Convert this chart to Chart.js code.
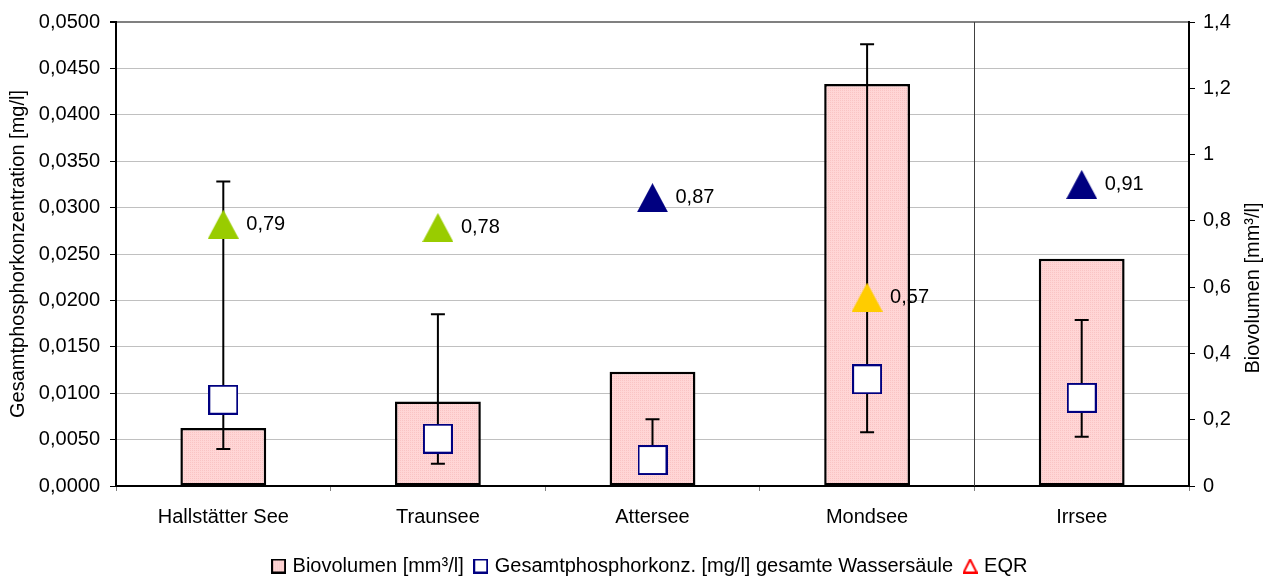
<!DOCTYPE html>
<html>
<head>
<meta charset="utf-8">
<script src="https://cdn.jsdelivr.net/npm/chart.js@4.4.1/dist/chart.umd.min.js"></script>
<style>
  html, body { margin: 0; padding: 0; background: #fff; }
  #wrap { width: 1280px; height: 579px; }
</style>
</head>
<body>
<div id="wrap"><canvas id="seenChart" width="1280" height="579"></canvas></div>
<script>
// Werte
const seen = ['Hallstätter See', 'Traunsee', 'Attersee', 'Mondsee', 'Irrsee'];
const biovolumen = [0.175, 0.255, 0.345, 1.213, 0.686];          // mm³/l, rechte Achse
const phosphor = [0.0093, 0.0051, 0.0028, 0.0115, 0.0095];       // mg/l, linke Achse
const phosphorMin = [0.0040, 0.0024, null, 0.0058, 0.0053];
const phosphorMax = [0.0328, 0.0185, 0.0072, 0.0476, 0.0179];
const eqr = [0.79, 0.78, 0.87, 0.57, 0.91];
const eqrFarben = ['#99cc00', '#99cc00', '#000080', '#ffcc00', '#000080'];
const eqrLabels = ['0,79', '0,78', '0,87', '0,57', '0,91'];

const FONT = '"Liberation Sans", Arial, sans-serif';
Chart.defaults.font.family = FONT;
Chart.defaults.font.size = 20;
Chart.defaults.color = '#000';

function makeCanvas(w, h, draw) {
    const c = document.createElement('canvas');
    c.width = w; c.height = h;
    draw(c.getContext('2d'));
    return c;
}

function dreieck(farbe, w, h, outline) {
    return makeCanvas(w, h, ctx => {
        ctx.beginPath();
        ctx.moveTo(w / 2, outline ? 1 : 0);
        ctx.lineTo(outline ? w - 1 : w, outline ? h - 1 : h);
        ctx.lineTo(outline ? 1 : 0, outline ? h - 1 : h);
        ctx.closePath();
        if (outline) {
            ctx.strokeStyle = farbe; ctx.lineWidth = 2; ctx.stroke();
        } else {
            ctx.fillStyle = farbe; ctx.fill();
        }
    });
}

function quadrat(size, fill, stroke, lw) {
    return makeCanvas(size, size, ctx => {
        ctx.fillStyle = fill;
        ctx.fillRect(0, 0, size, size);
        ctx.strokeStyle = stroke; ctx.lineWidth = lw;
        ctx.strokeRect(lw / 2, lw / 2, size - lw, size - lw);
    });
}

// rosa Punktmuster fuer die Balken
const musterCanvas = makeCanvas(2, 2, ctx => {
    ctx.fillStyle = '#ffd6d6'; ctx.fillRect(0, 0, 2, 2);
    ctx.fillStyle = '#f9c4c4'; ctx.fillRect(0, 0, 1, 1);
});
const muster = document.createElement('canvas').getContext('2d').createPattern(musterCanvas, 'repeat');

const quadratMarker = quadrat(30, '#fff', '#000080', 2);
const dreieckMarker = eqrFarben.map(f => dreieck(f, 31, 29, false));

const legendMarker = [
    makeCanvas(15, 15, ctx => {
        ctx.fillStyle = muster; ctx.fillRect(0, 0, 15, 15);
        ctx.strokeStyle = '#000'; ctx.lineWidth = 2; ctx.strokeRect(1, 1, 13, 13);
    }),
    quadrat(15, '#fff', '#000080', 2),
    dreieck('#ff0000', 15, 15, true)
];

const fehlerbalken = {
    id: 'fehlerbalken',
    beforeDatasetDraw(chart, args) {
        if (args.index !== 1) return;
        const ctx = chart.ctx, x = chart.scales.x, y = chart.scales.y;
        ctx.save();
        ctx.strokeStyle = '#000';
        ctx.lineWidth = 2;
        seen.forEach((s, i) => {
            const px = x.getPixelForValue(i);
            const yMid = y.getPixelForValue(phosphor[i]);
            const yTop = y.getPixelForValue(phosphorMax[i]);
            ctx.beginPath();
            ctx.moveTo(px, yMid); ctx.lineTo(px, yTop);
            ctx.moveTo(px - 7, yTop); ctx.lineTo(px + 7, yTop);
            if (phosphorMin[i] !== null) {
                const yBot = y.getPixelForValue(phosphorMin[i]);
                ctx.moveTo(px, yMid); ctx.lineTo(px, yBot);
                ctx.moveTo(px - 7, yBot); ctx.lineTo(px + 7, yBot);
            }
            ctx.stroke();
        });
        ctx.restore();
    }
};

const extras = {
    id: 'extras',
    afterLayout(chart) {
        // Legende wie im Original etwas nach rechts
        chart.legend.left += 11;
        chart.legend.right += 11;
    },
    beforeDatasetsDraw(chart) {
        const ctx = chart.ctx, x = chart.scales.x, area = chart.chartArea;
        const px = Math.round((x.getPixelForValue(3) + x.getPixelForValue(4)) / 2) + 0.5;
        ctx.save();
        ctx.strokeStyle = '#404040';
        ctx.lineWidth = 1;
        ctx.beginPath();
        ctx.moveTo(px, area.top); ctx.lineTo(px, area.bottom);
        ctx.stroke();
        ctx.restore();
    },
    afterDatasetsDraw(chart) {
        const ctx = chart.ctx, x = chart.scales.x, y1 = chart.scales.y1;
        ctx.save();
        ctx.font = '20px ' + FONT;
        ctx.fillStyle = '#000';
        ctx.textBaseline = 'middle';
        ctx.textAlign = 'left';
        eqr.forEach((v, i) => {
            ctx.fillText(eqrLabels[i], x.getPixelForValue(i) + 23, y1.getPixelForValue(v));
        });
        ctx.restore();
    },
    afterDraw(chart) {
        // Titel der rechten Achse, von unten nach oben gelesen
        const ctx = chart.ctx;
        ctx.save();
        ctx.translate(1253, 288);
        ctx.rotate(-Math.PI / 2);
        ctx.font = '20px ' + FONT;
        ctx.fillStyle = '#000';
        ctx.textAlign = 'center';
        ctx.textBaseline = 'middle';
        ctx.fillText('Biovolumen [mm³/l]', 0, 0);
        ctx.restore();
    }
};

const ctx = document.getElementById('seenChart').getContext('2d');
const seenChart = new Chart(ctx, {
    type: 'bar',
    data: {
        labels: seen,
        datasets: [
            {
                type: 'bar',
                label: 'Biovolumen [mm³/l]',
                data: biovolumen,
                yAxisID: 'y1',
                backgroundColor: muster,
                borderColor: '#000',
                borderWidth: 2.5,
                borderSkipped: false,
                barPercentage: 0.4,
                categoryPercentage: 1.0,
                order: 3
            },
            {
                type: 'line',
                label: 'Gesamtphosphorkonz. [mg/l] gesamte Wassersäule',
                data: phosphor,
                yAxisID: 'y',
                showLine: false,
                pointStyle: quadratMarker,
                order: 1
            },
            {
                type: 'line',
                label: 'EQR',
                data: eqr,
                yAxisID: 'y1',
                showLine: false,
                pointStyle: dreieckMarker,
                order: 0
            }
        ]
    },
    options: {
        responsive: false,
        animation: false,
        events: [],
        layout: { padding: { top: 18, left: 0, right: 0, bottom: -7 } },
        scales: {
            x: {
                offset: true,
                border: { color: '#000', width: 2 },
                grid: { offset: true, drawOnChartArea: false, drawTicks: true, tickLength: 5, tickColor: '#808080' },
                ticks: { padding: 14, font: { size: 20 } },
                afterFit: s => { s.height = 57; }
            },
            y: {
                position: 'left',
                min: 0,
                max: 0.05,
                border: { color: '#000', width: 2 },
                grid: {
                    color: c => (c.tick && Math.abs(c.tick.value - 0.05) < 1e-9) ? '#808080' : '#c0c0c0',
                    lineWidth: c => (c.tick && Math.abs(c.tick.value - 0.05) < 1e-9) ? 2 : 1,
                    tickColor: '#000',
                    tickLength: 6
                },
                ticks: {
                    stepSize: 0.005,
                    padding: 10,
                    callback: v => Number(v).toFixed(4).replace('.', ',')
                },
                title: {
                    display: true,
                    text: 'Gesamtphosphorkonzentration [mg/l]',
                    font: { size: 20 },
                    padding: { top: 6, bottom: 0 }
                },
                afterFit: s => { s.width = 116; }
            },
            y1: {
                position: 'right',
                min: 0,
                max: 1.4,
                border: { color: '#000', width: 2 },
                grid: { drawOnChartArea: false, tickColor: '#000', tickLength: 6 },
                ticks: {
                    stepSize: 0.2,
                    padding: 8,
                    callback: v => String(Number(Number(v).toFixed(1))).replace('.', ',')
                },
                afterFit: s => { s.width = 91; }
            }
        },
        plugins: {
            tooltip: { enabled: false },
            legend: {
                position: 'bottom',
                labels: {
                    usePointStyle: true,
                    boxWidth: 8,
                    boxHeight: 15,
                    padding: 13,
                    font: { size: 20 },
                    generateLabels: chart => chart.data.datasets.map((d, i) => ({
                        text: d.label,
                        pointStyle: legendMarker[i],
                        fillStyle: '#fff',
                        strokeStyle: '#000',
                        lineWidth: 0,
                        hidden: false,
                        datasetIndex: i
                    }))
                }
            }
        }
    },
    plugins: [fehlerbalken, extras]
});
</script>
</body>
</html>
